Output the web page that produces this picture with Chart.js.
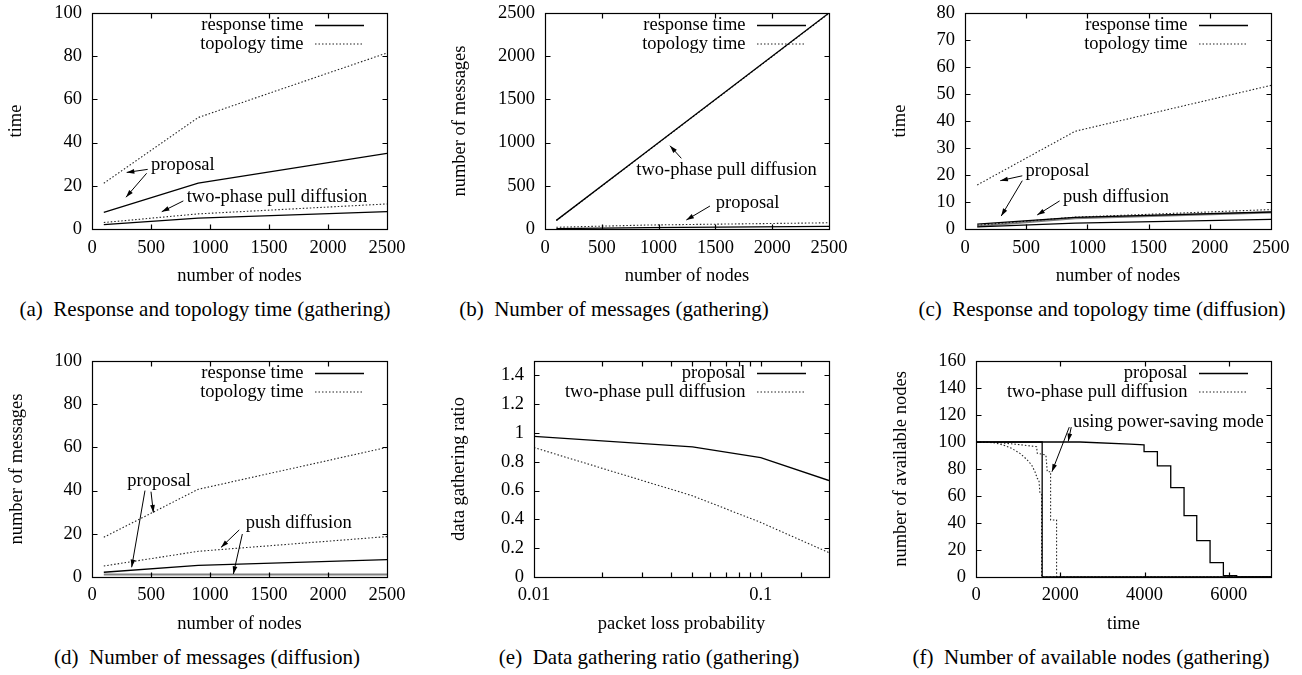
<!DOCTYPE html>
<html>
<head>
<meta charset="utf-8">
<script src="https://cdn.jsdelivr.net/npm/chart.js@4.4.1/dist/chart.umd.min.js"></script>
<style>
html, body { margin: 0; padding: 0; background: #fff; }
body { width: 1302px; height: 675px; position: relative; overflow: hidden; font-family: "Liberation Serif", serif; }
.panel { position: absolute; width: 434px; }
.cap { position: absolute; font-size: 21px; line-height: 24px; white-space: pre; transform: translateX(-50%); color: #000; }
</style>
</head>
<body>
<div class="panel" style="left:0;top:-10px;height:300px"><canvas id="ca"></canvas></div>
<div class="panel" style="left:434px;top:-10px;height:300px"><canvas id="cb"></canvas></div>
<div class="panel" style="left:868px;top:-10px;height:300px"><canvas id="cc"></canvas></div>
<div class="panel" style="left:0;top:330px;height:310px"><canvas id="cd"></canvas></div>
<div class="panel" style="left:434px;top:330px;height:310px"><canvas id="ce"></canvas></div>
<div class="panel" style="left:868px;top:330px;height:310px"><canvas id="cf"></canvas></div>

<div class="cap" style="left:205px;top:297px">(a)  Response and topology time (gathering)</div>
<div class="cap" style="left:614px;top:297px">(b)  Number of messages (gathering)</div>
<div class="cap" style="left:1102px;top:297px">(c)  Response and topology time (diffusion)</div>
<div class="cap" style="left:207px;top:645px">(d)  Number of messages (diffusion)</div>
<div class="cap" style="left:649px;top:645px">(e)  Data gathering ratio (gathering)</div>
<div class="cap" style="left:1091px;top:645px">(f)  Number of available nodes (gathering)</div>

<script>
// number of nodes used in (a)-(d)
var nodes = [100, 900, 2500];

// (a) response / topology time, gathering
var aPropResp = [7.7, 21.2, 35.0];
var aPropTopo = [21.2, 51.6, 81.5];
var aPullResp = [2.0, 5.0, 8.0];
var aPullTopo = [3.0, 7.0, 11.6];

// (b) number of messages, gathering
var bPropResp = [5, 15, 30];
var bPropTopo = [20, 46, 72];
var bPullResp = [100, 900, 2500];
var bPullTopo = [98, 897, 2496];

// (c) response / topology time, diffusion
var cPropResp = [1.8, 4.3, 6.3];
var cPropTopo = [16.3, 36.2, 53.2];
var cPushResp = [0.8, 2.2, 3.6];
var cPushTopo = [1.4, 4.4, 7.2];
var cPushOther = [1.0, 4.0, 6.1];

// (d) number of messages, diffusion
var dPropResp = [2.2, 5.4, 8.0];
var dPropTopo = [18.4, 40.6, 60.0];
var dPushResp = [1.2, 1.2, 1.2];
var dPushTopo = [5.1, 11.9, 18.7];

// (e) data gathering ratio
var lossProb = [0.01, 0.05, 0.1, 0.2];
var ePropRatio = [0.977, 0.903, 0.829, 0.67];
var ePullRatio = [0.899, 0.564, 0.379, 0.169];

// (f) available nodes over time
var fTimeTicks = [0, 2000, 4000, 6000];
var fPropTime = [0, 1570, 1570, 7000];
var fPropNodes = [100, 100, 0, 0];
var fPropPsTime = [0, 2469, 3655, 3988, 3988, 4304, 4304, 4621, 4621, 4937, 4937, 5238, 5238, 5554, 5554, 5870, 5870, 6186, 6186, 7000];
var fPropPsNodes = [100, 100, 98.5, 97.8, 92.8, 92.8, 82.3, 82.3, 66.2, 66.2, 45.5, 45.5, 26.9, 26.9, 10.7, 10.7, 1, 1, 0, 0];
var fPullTime = [0, 411, 648, 845, 1043, 1201, 1320, 1399, 1454, 1493, 1517, 1557, 1557, 7000];
var fPullNodes = [100, 99.5, 97.8, 95.3, 91.6, 87.2, 83, 78, 73, 72, 62, 61, 0, 0];
var fPullPsTime = [0, 569, 1043, 1438, 1454, 1659, 1691, 1770, 1770, 1912, 1912, 7000];
var fPullPsNodes = [100, 99.5, 98, 96.5, 91.6, 90.4, 78, 78, 42.2, 42.2, 0, 0];

var FONT = '"Liberation Serif", "Times New Roman", serif';
var SOLID = { borderColor: '#000', borderWidth: 1.3 };
var DOTTED = { borderColor: '#222', borderWidth: 1.1, borderDash: [1.5, 2] };
var GRAY = { borderColor: '#808080', borderWidth: 2 };

function line(xs, ys, st) {
    return {
        data: xs.map(function (x, i) { return { x: x, y: ys[i] }; }),
        borderColor: st.borderColor,
        borderWidth: st.borderWidth,
        borderDash: st.borderDash || [],
        pointRadius: 0,
        tension: 0,
        fill: false
    };
}

// border box with inward ticks on all four sides
var frame = {
    id: 'frame',
    afterDatasetsDraw: function (chart) {
        var ctx = chart.ctx, a = chart.chartArea, sx = chart.scales.x, sy = chart.scales.y;
        var l = Math.round(a.left) + 0.5, r = Math.round(a.right) + 0.5;
        var t = Math.round(a.top) + 0.5, b = Math.round(a.bottom) + 0.5;
        ctx.save();
        ctx.setLineDash([]);
        ctx.strokeStyle = '#000';
        ctx.lineWidth = 1.2;
        ctx.strokeRect(l, t, r - l, b - t);
        ctx.beginPath();
        sx.ticks.forEach(function (tk) {
            var p = Math.round(sx.getPixelForValue(tk.value)) + 0.5;
            if (p <= l + 1 || p >= r - 1) return;
            ctx.moveTo(p, b); ctx.lineTo(p, b - 5);
            ctx.moveTo(p, t); ctx.lineTo(p, t + 5);
        });
        sy.ticks.forEach(function (tk) {
            var p = Math.round(sy.getPixelForValue(tk.value)) + 0.5;
            if (p <= t + 1 || p >= b - 1) return;
            ctx.moveTo(l, p); ctx.lineTo(l + 5, p);
            ctx.moveTo(r, p); ctx.lineTo(r - 5, p);
        });
        ctx.stroke();
        ctx.restore();
    }
};

// gnuplot style key: right aligned text then a sample line
function keyPlugin(items) {
    return {
        id: 'gnukey',
        afterDatasetsDraw: function (chart) {
            var ctx = chart.ctx, a = chart.chartArea;
            ctx.save();
            ctx.font = '18.5px ' + FONT;
            ctx.textAlign = 'right';
            ctx.textBaseline = 'middle';
            ctx.fillStyle = '#000';
            items.forEach(function (it, i) {
                var y = a.top + 12.5 + i * 18.5;
                var x2 = a.right - 23, x1 = x2 - 49;
                ctx.fillText(it[0], x1 - 11.5, y);
                ctx.beginPath();
                ctx.setLineDash(it[1].borderDash || []);
                ctx.lineWidth = it[1].borderWidth;
                ctx.strokeStyle = it[1].borderColor;
                ctx.moveTo(x1, y); ctx.lineTo(x2, y);
                ctx.stroke();
            });
            ctx.restore();
        }
    };
}

// labels and arrows placed in data coordinates
function notePlugin(texts, arrows) {
    return {
        id: 'notes',
        afterDatasetsDraw: function (chart) {
            var ctx = chart.ctx, sx = chart.scales.x, sy = chart.scales.y;
            ctx.save();
            ctx.font = '18.5px ' + FONT;
            ctx.textAlign = 'left';
            ctx.textBaseline = 'middle';
            ctx.fillStyle = '#000';
            texts.forEach(function (t) {
                ctx.fillText(t[0], sx.getPixelForValue(t[1]), sy.getPixelForValue(t[2]));
            });
            ctx.strokeStyle = '#000';
            ctx.lineWidth = 1;
            ctx.setLineDash([]);
            arrows.forEach(function (ar) {
                var x1 = sx.getPixelForValue(ar[0]), y1 = sy.getPixelForValue(ar[1]);
                var x2 = sx.getPixelForValue(ar[2]), y2 = sy.getPixelForValue(ar[3]);
                var ang = Math.atan2(y2 - y1, x2 - x1);
                ctx.beginPath();
                ctx.moveTo(x1, y1); ctx.lineTo(x2, y2);
                ctx.stroke();
                ctx.beginPath();
                ctx.moveTo(x2, y2);
                ctx.lineTo(x2 - 8 * Math.cos(ang - 0.3), y2 - 8 * Math.sin(ang - 0.3));
                ctx.lineTo(x2 - 8 * Math.cos(ang + 0.3), y2 - 8 * Math.sin(ang + 0.3));
                ctx.closePath();
                ctx.fillStyle = '#000';
                ctx.fill();
            });
            ctx.restore();
        }
    };
}

function fmt(v) { return String(+(+v).toFixed(3)); }

function makeChart(id, p) {
    var tickFont = { family: FONT, size: 18.5 };
    var xScale = {
        type: p.xType || 'linear',
        min: p.xMin, max: p.xMax,
        grid: { display: false, drawTicks: false },
        border: { display: false },
        ticks: {
            color: '#000', font: tickFont, padding: p.xTickPad,
            autoSkip: false, maxRotation: 0, includeBounds: false,
            stepSize: p.xStep,
            callback: p.xLabel || fmt
        },
        title: { display: true, text: p.xTitle, color: '#000', font: tickFont, padding: { top: 0, bottom: p.xTitlePad } },
        afterFit: function (s) { s.height = p.xH; }
    };
    if (p.xTicks) {
        xScale.afterBuildTicks = function (s) {
            s.ticks = p.xTicks.map(function (v) { return { value: v }; });
        };
    }
    var yScale = {
        type: 'linear',
        min: p.yMin, max: p.yMax,
        grid: { display: false, drawTicks: false },
        border: { display: false },
        ticks: {
            color: '#000', font: tickFont, padding: 10,
            autoSkip: false, includeBounds: false,
            stepSize: p.yStep,
            callback: fmt
        },
        title: { display: true, text: p.yTitle, color: '#000', font: tickFont, padding: { top: p.yTitlePad, bottom: 0 } },
        afterFit: function (s) { s.width = p.yW; }
    };
    return new Chart(document.getElementById(id), {
        type: 'line',
        data: { datasets: p.datasets },
        options: {
            responsive: true,
            maintainAspectRatio: false,
            animation: false,
            layout: { padding: { left: 0, right: p.padRight, top: p.padTop, bottom: 0 } },
            scales: { x: xScale, y: yScale },
            plugins: { legend: { display: false }, tooltip: { enabled: false } }
        },
        plugins: [frame, keyPlugin(p.key), notePlugin(p.texts || [], p.arrows || [])]
    });
}

var row1 = { padTop: 23, xH: 61, xTickPad: 8.5, xTitlePad: 2.9 };
var row2 = { padTop: 31, xH: 63, xTickPad: 7.5, xTitlePad: 4.4 };

function merge(a, b) { var o = {}; for (var k in a) o[k] = a[k]; for (var k2 in b) o[k2] = b[k2]; return o; }

makeChart('ca', merge(row1, {
    xMin: 0, xMax: 2500, xStep: 500, yMin: 0, yMax: 100, yStep: 20,
    xTitle: 'number of nodes', yTitle: 'time', yW: 92, yTitlePad: 4.6, padRight: 47,
    datasets: [
        line(nodes, aPropResp, SOLID), line(nodes, aPropTopo, DOTTED),
        line(nodes, aPullResp, SOLID), line(nodes, aPullTopo, DOTTED)
    ],
    key: [['response time', SOLID], ['topology time', DOTTED]],
    texts: [['proposal', 500, 29.6], ['two-phase pull diffusion', 802, 14.7]],
    arrows: [[472, 27.6, 294, 26.2], [463, 25.8, 288, 14.7], [774, 13, 591, 8]]
}));

makeChart('cb', merge(row1, {
    xMin: 0, xMax: 2500, xStep: 500, yMin: 0, yMax: 2500, yStep: 500,
    xTitle: 'number of nodes', yTitle: 'number of messages', yW: 111, yTitlePad: 14.9, padRight: 39,
    datasets: [
        line(nodes, bPropResp, SOLID), line(nodes, bPropTopo, DOTTED),
        line(nodes, bPullResp, SOLID), line(nodes, bPullTopo, DOTTED)
    ],
    key: [['response time', SOLID], ['topology time', DOTTED]],
    texts: [['two-phase pull diffusion', 804, 683], ['proposal', 1503, 297]],
    arrows: [[1200, 818, 1100, 964], [1452, 266, 1244, 104]]
}));

makeChart('cc', merge(row1, {
    xMin: 0, xMax: 2500, xStep: 500, yMin: 0, yMax: 80, yStep: 10,
    xTitle: 'number of nodes', yTitle: 'time', yW: 97, yTitlePad: 20.9, padRight: 31,
    datasets: [
        line(nodes, cPropResp, SOLID), line(nodes, cPropTopo, DOTTED),
        line(nodes, cPushResp, SOLID), line(nodes, cPushTopo, DOTTED),
        line(nodes, cPushOther, GRAY)
    ],
    key: [['response time', SOLID], ['topology time', DOTTED]],
    texts: [['proposal', 495, 21.6], ['push diffusion', 800, 11.7]],
    arrows: [[468, 19.7, 288, 17.9], [468, 17.9, 296, 4.8], [773, 10.4, 590, 5.2]]
}));

makeChart('cd', merge(row2, {
    xMin: 0, xMax: 2500, xStep: 500, yMin: 0, yMax: 100, yStep: 20,
    xTitle: 'number of nodes', yTitle: 'number of messages', yW: 92, yTitlePad: 5.6, padRight: 47,
    datasets: [
        line(nodes, dPropResp, SOLID), line(nodes, dPropTopo, DOTTED),
        line(nodes, dPushResp, GRAY), line(nodes, dPushTopo, DOTTED)
    ],
    key: [['response time', SOLID], ['topology time', DOTTED]],
    texts: [['proposal', 299, 44.6], ['push diffusion', 1302, 24.8]],
    arrows: [[449, 40, 336, 4.5], [500, 39.5, 520, 29.8], [1248, 21.8, 1093, 13.7], [1274, 19.9, 1198, 1.4]]
}));

makeChart('ce', merge(row2, {
    xType: 'logarithmic', xMin: 0.01, xMax: 0.2, yMin: 0, yMax: 1.5, yStep: 0.2,
    xLabel: function (v) {
        var e = Math.log10(v);
        return Math.abs(e - Math.round(e)) < 1e-6 ? String(Math.pow(10, Math.round(e))) : '';
    },
    xTitle: 'packet loss probability', yTitle: 'data gathering ratio', yW: 100, yTitlePad: 13.9, padRight: 39,
    datasets: [line(lossProb, ePropRatio, SOLID), line(lossProb, ePullRatio, DOTTED)],
    key: [['proposal', SOLID], ['two-phase pull diffusion', DOTTED]]
}));

makeChart('cf', merge(row2, {
    xMin: 0, xMax: 7000, xTicks: fTimeTicks, yMin: 0, yMax: 160, yStep: 20,
    xTitle: 'time', yTitle: 'number of available nodes', yW: 108, yTitlePad: 21.6, padRight: 31,
    datasets: [
        line(fPropTime, fPropNodes, SOLID), line(fPropPsTime, fPropPsNodes, SOLID),
        line(fPullTime, fPullNodes, DOTTED), line(fPullPsTime, fPullPsNodes, DOTTED)
    ],
    key: [['proposal', SOLID], ['two-phase pull diffusion', DOTTED]],
    texts: [['using power-saving mode', 2299, 115]],
    arrows: [[2260, 111, 2189, 100.5], [2213, 111, 1802, 78]]
}));
</script>
</body>
</html>
